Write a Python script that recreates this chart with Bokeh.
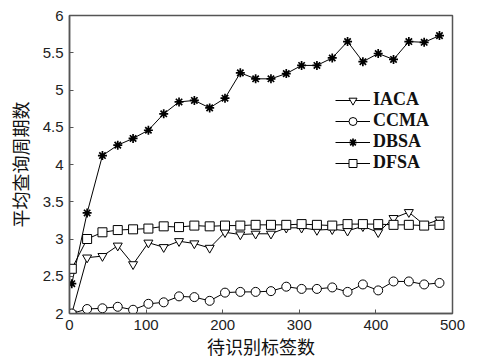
from bokeh.plotting import figure
from bokeh.models import Range1d, Legend, LegendItem, FixedTicker
from bokeh.embed import file_html
from bokeh.resources import INLINE

x = [3, 23, 43, 63, 83, 103, 123, 143, 163, 183, 203, 223, 243, 263, 283,
     303, 323, 343, 363, 383, 403, 423, 443, 463, 483]
iaca = [2.0, 2.75, 2.77, 2.91, 2.66, 2.95, 2.89, 2.97, 2.94, 2.88, 3.09, 3.06,
        3.07, 3.07, 3.15, 3.15, 3.12, 3.13, 3.11, 3.17, 3.09, 3.28, 3.36, 3.19, 3.26]
ccma = [2.0, 2.06, 2.07, 2.09, 2.05, 2.13, 2.15, 2.23, 2.22, 2.17, 2.28, 2.29,
        2.29, 2.30, 2.36, 2.33, 2.33, 2.35, 2.29, 2.39, 2.31, 2.43, 2.43, 2.39, 2.41]
dbsa = [2.4, 3.35, 4.12, 4.26, 4.35, 4.46, 4.68, 4.84, 4.86, 4.76, 4.89, 5.23,
        5.15, 5.15, 5.22, 5.33, 5.33, 5.43, 5.65, 5.38, 5.49, 5.41, 5.65, 5.64, 5.73]
dfsa = [2.6, 3.0, 3.09, 3.12, 3.13, 3.14, 3.17, 3.16, 3.18, 3.17, 3.18, 3.18,
        3.19, 3.19, 3.19, 3.2, 3.19, 3.18, 3.2, 3.2, 3.2, 3.19, 3.19, 3.18, 3.19]
names = ["IACA", "CCMA", "DBSA", "DFSA"]
x_ticks = [0, 100, 200, 300, 400, 500]
y_ticks = [2, 2.5, 3, 3.5, 4, 4.5, 5, 5.5, 6]
x_title = "待识别标签数"
y_title = "平均查询周期数"

p = figure(width=478, height=362, output_backend="svg", toolbar_location=None,
           x_range=Range1d(0, 500), y_range=Range1d(2, 6),
           min_border_left=69, min_border_right=26, min_border_top=15, min_border_bottom=49)
p.background_fill_color = "white"
p.border_fill_color = "white"
p.grid.visible = False
p.outline_line_color = "#555555"
p.outline_line_width = 1.5

for ax in (p.xaxis[0], p.yaxis[0]):
    ax.axis_line_color = "#555555"
    ax.axis_line_width = 1.5
    ax.major_tick_in = 4
    ax.major_tick_out = 0
    ax.minor_tick_line_color = None
    ax.major_tick_line_color = "#555555"
    ax.major_label_text_font = "Liberation Sans"
    ax.major_label_text_font_size = "15px"
    ax.major_label_text_color = "#222222"
    ax.axis_label_text_font = "Noto Sans CJK SC"
    ax.axis_label_text_font_size = "18px"
    ax.axis_label_text_font_style = "normal"
    ax.axis_label_text_color = "#111111"

p.xaxis.ticker = FixedTicker(ticks=x_ticks)
p.yaxis.ticker = FixedTicker(ticks=y_ticks)
p.xaxis.major_label_standoff = 6
p.yaxis.major_label_standoff = 6
p.xaxis.axis_label = x_title
p.xaxis.axis_label_standoff = 0
p.yaxis.axis_label = y_title
p.yaxis.axis_label_standoff = 7

items = []
series = [(iaca, "inverted_triangle", 9), (ccma, "circle", 9),
          (dbsa, "asterisk", 9), (dfsa, "square", 9)]
for (ys, marker, size), name in zip(series, names):
    ln = p.line(x, ys, line_color="black", line_width=1)
    kw = dict(size=size, line_color="black", fill_color="white", line_width=1)
    if marker == "asterisk":
        kw["line_width"] = 1.7
    sc = p.scatter(x, ys, marker=marker, **kw)
    items.append(LegendItem(label=name, renderers=[ln, sc]))

legend = Legend(items=items, location=(266, 140), padding=0, margin=0, spacing=0,
                glyph_width=35, glyph_height=20, label_height=20,
                label_text_font="Liberation Serif", label_text_font_size="18px",
                label_text_font_style="bold",
                label_text_color="#111111", label_standoff=3,
                border_line_color=None, background_fill_alpha=0)
p.add_layout(legend, "center")

open("out.html", "w").write(file_html(p, INLINE))
